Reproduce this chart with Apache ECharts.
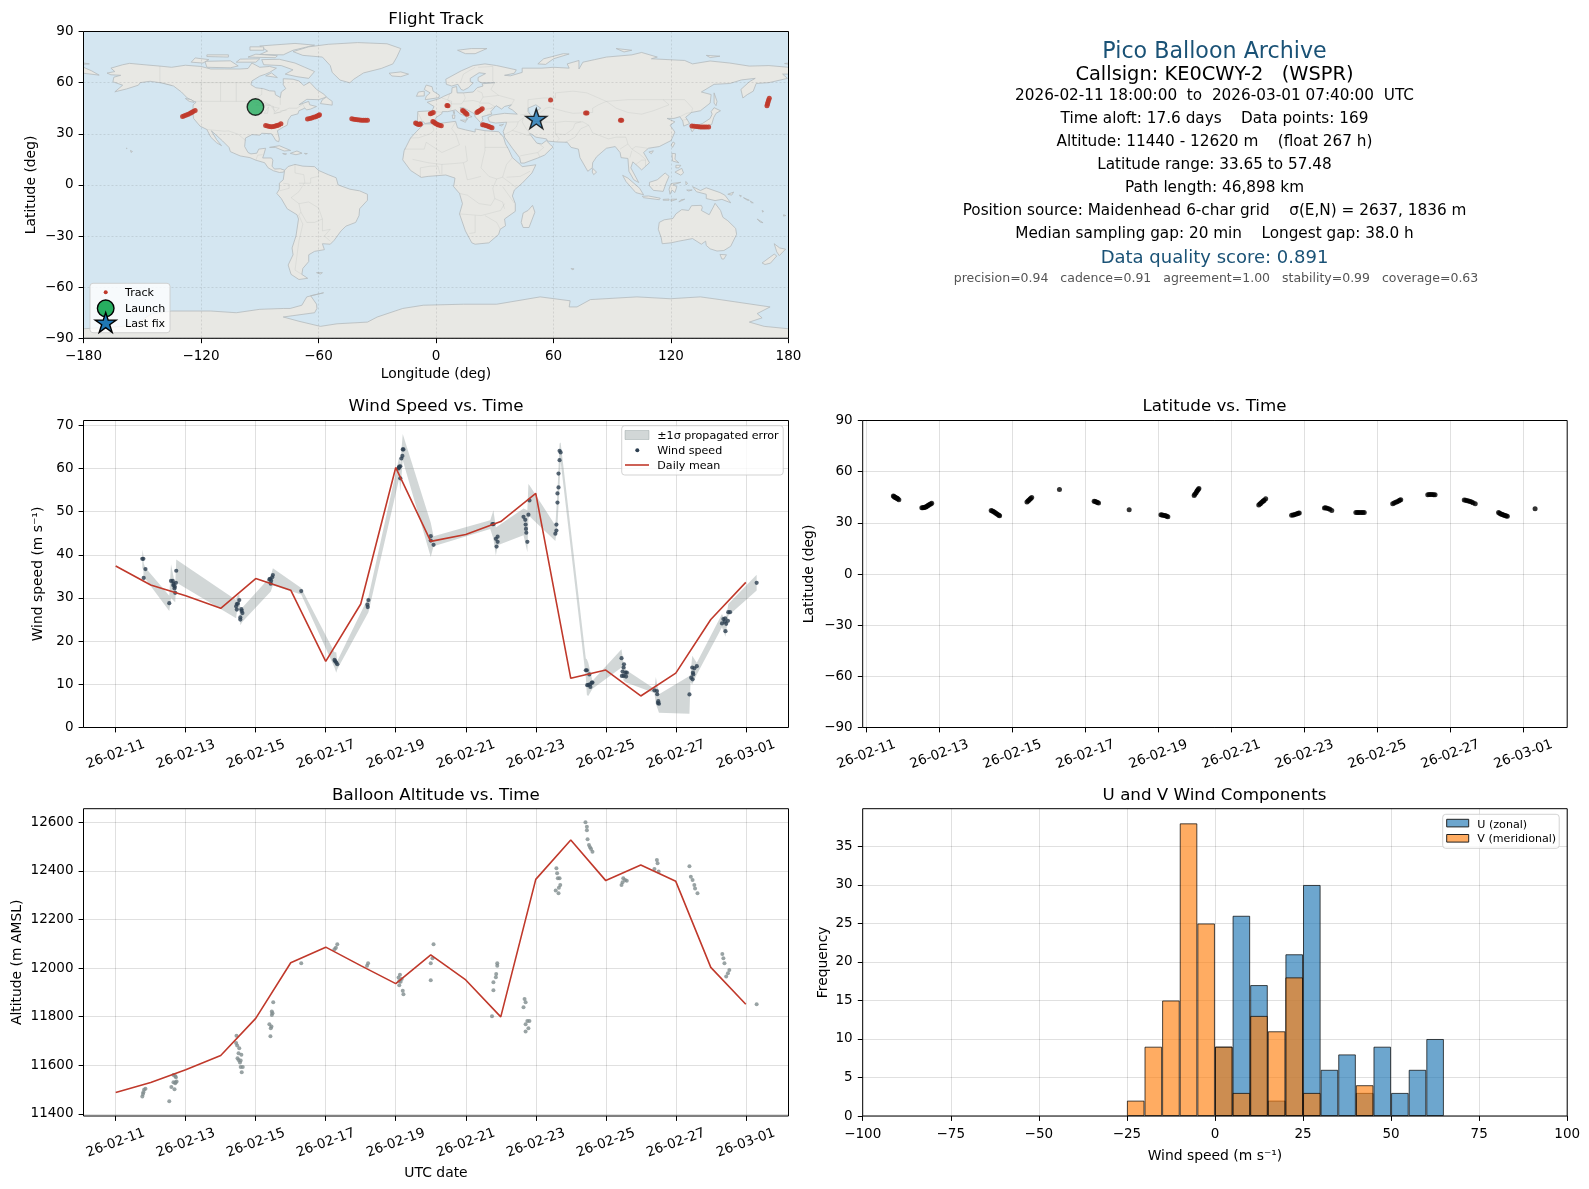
<!DOCTYPE html>
<html><head><meta charset="utf-8">
<style>html,body{margin:0;padding:0;background:#fff}#c{width:1589px;height:1189px}</style>
<script src="https://cdn.jsdelivr.net/npm/echarts@6/dist/echarts.min.js"></script>
</head><body><div id="c"></div>
<script>
// ---------- tick labels ----------
const tickDays=[0,2,4,6,8,10,12,14,16,18];
const tickLabels=['26-02-11','26-02-13','26-02-15','26-02-17','26-02-19','26-02-21','26-02-23','26-02-25','26-02-27','26-03-01'];
const lonTicks=[-180,-120,-60,0,60,120,180];
const latTicks=[-90,-60,-30,0,30,60,90];
const windTicks=[0,10,20,30,40,50,60,70];
const altTicks=[11400,11600,11800,12000,12200,12400,12600];
const histXTicks=[-100,-75,-50,-25,0,25,50,75,100];
const histYTicks=[0,5,10,15,20,25,30,35];

// ---------- text block ----------
const infoTitle='Pico Balloon Archive';
const infoLines=['2026-02-11 18:00:00  to  2026-03-01 07:40:00  UTC','Time aloft: 17.6 days    Data points: 169','Altitude: 11440 - 12620 m    (float 267 h)','Latitude range: 33.65 to 57.48','Path length: 46,898 km','Position source: Maidenhead 6-char grid    σ(E,N) = 2637, 1836 m','Median sampling gap: 20 min    Longest gap: 38.0 h'];

// ---------- daily means (day index 0..18) ----------
const meanDays=[0,1,2,3,4,5,6,7,8,9,10,11,12,13,14,15,16,17,18];
const windMean=[37.4,33.0,30.5,27.6,34.5,31.8,15.3,28.6,60.2,43.1,44.7,47.7,54.2,11.4,13.3,7.3,12.6,25.0,33.6];
const altMean=[11488,11529,11581,11640,11793,12022,12086,12010,11936,12054,11951,11799,12365,12527,12360,12424,12357,12003,11851];

// ---------- wind speed samples [day, m/s] ----------
const windPoints=[[.76,39.07],[.79,39.07],[.85,36.7],[.80,34.65],[1.53,28.8],[1.58,33.95],[1.63,33.95],[1.65,33.26],[1.72,33.5],[1.69,32.6],[1.68,32.2],[1.65,32.9],[1.70,31.2],[1.73,36.3],
[3.53,29.5],[3.46,28.6],[3.49,28.7],[3.44,28.06],[3.46,27.3],[3.59,27.4],[3.60,27],[3.62,26.5],[3.56,25.5],[3.56,25],
[4.49,35.3],[4.47,34.8],[4.41,34.4],[4.39,34.3],[4.44,34],[4.43,33.3],[5.30,31.6],[6.25,15.66],[6.27,15.35],[6.30,15.04],[6.33,14.65],[7.22,29.5],[7.19,28.45],[7.20,27.9],
[8.20,64.4],[8.22,64.4],[8.19,62.9],[8.16,62.3],[8.13,60.5],[8.09,60.2],[8.10,60.4],[8.08,60],[8.13,57.7],[9.0,44.3],[9.0,43.3],[9.08,42.3],
[10.79,47.1],[10.76,47.1],[10.86,43.7],[10.91,44.2],[10.91,43],[10.88,41.9],[11.65,48.8],[11.70,48.1],[11.71,47],[11.72,46],[11.73,45.1],[11.76,43],[11.79,49.3],[11.82,52.6],
[12.59,47],[12.59,45.6],[12.56,44.9],[12.62,52.1],[12.62,54.2],[12.65,55.6],[12.65,58.8],[12.68,61.9],[12.68,64.1],[12.71,63.7],
[13.43,13.26],[13.46,13.26],[13.53,12.3],[13.47,9.8],[13.50,9.85],[13.55,10],[13.60,10.4],[13.62,10.4],[13.56,9.4],
[14.45,16.05],[14.52,14.65],[14.51,13.9],[14.48,12.95],[14.56,12.7],[14.60,12.7],[14.46,11.95],[14.51,11.95],[14.58,11.8],
[15.39,8.6],[15.46,8.45],[15.47,7.7],[15.50,6.1],[15.52,5.5],[15.49,5.66],[16.39,7.67],[16.44,11.55],[16.48,11.16],[16.53,13.7],[16.60,14.2],[16.50,12.3],[16.47,13.9],[16.49,12.7],
[17.42,22.3],[17.32,24.1],[17.36,25.1],[17.41,25.3],[17.50,26.7],[17.55,26.7],[17.49,24.7],[17.44,24],[17.40,24.5],[18.31,33.5]];

// ---------- propagated error band ----------
const bandDay=[.76,.79,.80,.85,1.53,1.58,1.70,1.73,3.44,3.46,3.53,3.56,3.62,4.43,4.49,5.30,6.25,6.30,6.33,7.22,8.10,8.13,8.20,9.0,9.08,10.7,10.79,10.86,10.91,11.65,11.76,11.79,11.82,12.56,12.62,12.68,12.71,13.43,13.46,13.50,13.62,14.45,14.51,14.58,15.39,15.43,15.52,16.39,16.42,16.47,16.60,17.32,17.42,17.50,18.31];
const bandUpper=[41.2,40,38,37,30.5,37.8,33,38.9,29.5,30.3,31,27.5,27.8,35,36.9,32.3,17.4,17.4,15.4,30.2,62.7,61,68,47.4,44.3,48,50.3,46.3,46.6,50.7,50.3,56.4,56.1,46.8,54.6,65.8,66,16,15.8,15,10.8,18.1,14.7,13.3,9,11.7,7.7,11.9,12.3,16.6,15,26.3,24.5,28.6,35.4];
const bandLower=[37,36.5,34,34.4,27,30,29,33.6,25.3,26.7,27.8,23.7,24.5,31.5,32.9,30.8,13.9,12.7,13.5,26.7,57.7,54.6,61.9,39.5,42,46,43.7,39.8,42.2,44.5,40.6,48.4,48.9,43.2,46.8,56,61.6,11.6,7.5,7.3,9,13.9,10.8,10.4,8,5.5,3.4,3.2,10.4,10,12.3,23.2,21,25.9,31.7];

// ---------- latitude samples [day, deg] ----------
const latPoints=[[.74,45.7],[.76,45.4],[.78,45],[.8,44.8],[.82,44.6],[.84,44.4],[.86,44.1],[.89,43.6],[1.52,38.8],[1.55,38.9],[1.58,39],[1.6,39.1],[1.63,39.3],[1.65,39.6],[1.68,40],[1.7,40.3],[1.73,40.7],[1.76,41.1],[1.79,41.5],[3.42,37.3],[3.45,37],[3.48,36.6],[3.51,36.2],[3.54,35.8],[3.57,35.3],[3.6,34.9],[3.63,34.5],[3.65,34.2],[4.4,42.2],[4.43,42.8],[4.45,43.2],[4.48,43.8],[4.5,44.2],[4.53,44.8],[5.29,49.5],[6.24,42.7],[6.27,42.5],[6.3,42.2],[6.33,41.9],[6.36,41.6],[7.2,37.7],[8.07,34.7],[8.1,34.6],[8.13,34.5],[8.17,34.3],[8.2,34.1],[8.23,33.8],[8.26,33.5],[8.98,46],[9.0,46.7],[9.03,47.5],[9.05,48.3],[9.07,49],[9.09,49.6],[9.11,50.2],[10.75,40.5],[10.78,41],[10.8,41.4],[10.83,42],[10.86,42.5],[10.88,42.9],[10.9,43.3],[10.94,44.1],[11.65,34.5],[11.69,34.6],[11.72,34.8],[11.76,35],[11.8,35.3],[11.83,35.6],[11.86,35.8],[12.55,38.7],[12.58,38.8],[12.62,38.6],[12.66,38.3],[12.7,38],[12.75,37.3],[13.41,36],[13.45,36],[13.48,36],[13.52,36],[13.56,36],[13.6,36],[13.64,36],[14.42,41.2],[14.46,41.6],[14.5,42],[14.54,42.4],[14.58,42.8],[14.61,43.2],[14.64,43.5],[15.38,46.5],[15.42,46.6],[15.46,46.6],[15.5,46.6],[15.54,46.5],[15.58,46.4],[16.38,43.4],[16.42,43.2],[16.46,43],[16.5,42.8],[16.54,42.5],[16.58,42.2],[16.62,41.8],[16.68,41.2],[17.32,36],[17.35,35.6],[17.38,35.2],[17.41,35],[17.44,34.8],[17.47,34.5],[17.5,34.3],[17.53,34],[17.56,33.8],[18.32,38.3]];

// ---------- altitude samples [day, m] ----------
const altPoints=[[.76,11471],[.78,11482],[.81,11499],[.85,11503],[.79,11489],[1.53,11452],[1.65,11560],[1.70,11556],[1.72,11551],[1.65,11530],[1.71,11530],[1.74,11533],[1.59,11510],[1.68,11501],[1.70,11526],
[3.45,11721],[3.44,11691],[3.47,11681],[3.53,11670],[3.51,11649],[3.59,11643],[3.48,11629],[3.51,11622],[3.57,11619],[3.55,11611],[3.57,11593],[3.63,11593],[3.60,11571],
[4.50,11859],[4.46,11821],[4.48,11814],[4.46,11807],[4.39,11769],[4.45,11759],[4.43,11752],[4.42,11719],[5.30,12020],[6.33,12098],[6.29,12084],[6.25,12077],[7.21,12020],[7.18,12010],
[8.12,11972],[8.08,11961],[8.17,11955],[8.10,11947],[8.14,11944],[8.10,11929],[8.20,11907],[8.22,11892],[9.08,12098],[9.05,12040],[9.0,12020],[9.0,11950],
[10.9,12020],[10.9,12010],[10.87,11976],[10.86,11962],[10.79,11942],[10.79,11909],[10.75,11802],[11.68,11873],[11.71,11859],[11.65,11839],[11.76,11782],[11.82,11782],[11.71,11769],[11.79,11752],[11.71,11739],
[12.59,12411],[12.61,12390],[12.63,12370],[12.68,12370],[12.70,12342],[12.66,12331],[12.57,12319],[12.65,12308],[13.42,12600],[13.46,12582],[13.46,12567],[13.48,12530],[13.52,12507],[13.55,12497],[13.58,12490],[13.62,12479],
[14.50,12370],[14.55,12363],[14.60,12359],[14.48,12353],[14.45,12342],[15.46,12445],[15.48,12431],[15.39,12408],[15.51,12397],[16.39,12419],[16.43,12376],[16.48,12363],[16.53,12342],[16.55,12328],[16.62,12308],
[17.33,12058],[17.36,12040],[17.39,12020],[17.53,11992],[17.49,11979],[17.44,11965],[18.31,11851]];

// ---------- histogram (5 m/s bins, left edge) ----------
const histEdges=[-25,-20,-15,-10,-5,0,5,10,15,20,25,30,35,40,45,50,55,60];
const histU=[0,0,0,0,0,9,26,17,2,21,30,6,8,3,9,3,6,10];
const histV=[2,9,15,38,25,9,3,13,11,18,3,0,0,4,0,0,0,0];

// ---------- track [lon, lat] ----------
const trackPoints=[[-129.4,40.2],[-128.5,40.6],[-127.5,41],[-126.5,41.5],[-125.5,42],[-124.8,42.5],[-124,43],[-123,43.7],[-87,34.9],[-86,34.5],[-85,34.2],[-84,34.1],[-83,34.2],[-82,34.5],[-81.2,34.9],[-80.3,35.2],[-79.2,35.9],[-65.6,38.6],[-64.5,39],[-63.5,39.3],[-62.5,39.7],[-61.5,40],[-60.7,40.4],[-60,40.7],[-59.5,41.2],[-43,38.8],[-42,38.5],[-41,38.4],[-40,38.2],[-39,38.1],[-38,38],[-37,38],[-36,38],[-35,38],[-10.4,36.3],[-9.8,35.9],[-9,35.5],[-8.3,35.6],[-8,35.8],[-2.9,41.8],[-2.2,42.1],[-1.4,42.5],[-1.6,37.2],[-1,36.7],[-0.4,36.2],[0.3,35.8],[1,35.3],[1.8,35],[2.7,34.7],[6.1,46.5],[5.6,46.6],[13.6,43.7],[14.2,43.2],[14.8,42.5],[15.3,42],[15.8,41.4],[20.9,42.5],[21.5,43],[22,43.4],[22.8,44],[23.6,44.7],[23.8,35.3],[24.6,35.1],[25.5,34.9],[26.3,34.5],[27,34.2],[27.8,33.8],[28.6,33.5],[58.5,49.8],[77.1,42.2],[76.4,42.2],[94.8,38],[94.2,38],[130.7,34.5],[131.8,34.4],[133,34.2],[134,34.1],[135,34],[136,34],[137,34],[138,33.9],[139.2,33.9],[169,46.5],[169.3,47.5],[169.5,48.5],[169.8,49.6],[170.2,50.8]];
const launchPoint=[-92.2,45.7];
const lastFixPoint=[51.2,38.8];

// ---------- land outlines [lon, lat] ----------
const landNorthAmerica=[[-168,65.6],[-164,66.5],[-166,68.5],[-160,70.5],[-156.5,71.3],[-148,70.4],[-141,69.7],[-135,69],[-128,70.2],[-120,69.5],[-115,68],[-108,68],[-100,68],[-96,68.3],[-94,71.5],[-90,69],[-85,69.5],[-81.5,68.5],[-85,66],[-87,65],[-90,63.8],[-94,61],[-94.5,58.8],[-92,57],[-88,56.4],[-85,55.2],[-82.3,55],[-82,52.9],[-79.5,51.3],[-79,54.5],[-76.7,56.5],[-78,58.8],[-78,62.3],[-73,62],[-70,61],[-67.5,58.3],[-64.5,60.3],[-61,56],[-57,53],[-56,51.5],[-60,50],[-66,50.2],[-70,47],[-65,49],[-64.5,47],[-61,46],[-64,44.5],[-66,44],[-67,45],[-70,43.5],[-70.5,41.7],[-74,40.6],[-75.5,38],[-76,35],[-78,33.9],[-81,31.8],[-80,27],[-80.3,25.3],[-81.8,26],[-82.8,28],[-84,30],[-89,30.3],[-90,29.2],[-94,29.5],[-97.3,27.5],[-97.7,22.5],[-96,19],[-94.5,18.2],[-91.5,18.6],[-90.5,21],[-87,21.5],[-88,17.5],[-88.5,15.8],[-84,15.8],[-83.3,14.5],[-83.7,11],[-82.5,9.3],[-79.5,9.5],[-77.3,8.6],[-77.8,7.5],[-80,7.3],[-83,8.3],[-85.7,10],[-87.5,13],[-92,14.5],[-95,16],[-100,17],[-105,19.5],[-105.7,22],[-109,25.8],[-112.5,29.5],[-114.7,31.7],[-112,26.5],[-109.5,23],[-112,24.7],[-115,28],[-117,32.5],[-120.5,34.5],[-123.8,39],[-124.2,43],[-124,47],[-122.5,48.5],[-127,51],[-130,54.5],[-134,58],[-140,59.8],[-146,60.8],[-151,60],[-152,58.5],[-158,56.3],[-164,54.6],[-160,58.5],[-165,60.5],[-164.5,63.2],[-161,64.3],[-166,64.6]];
const landSouthAmerica=[[-77.3,8.6],[-75.5,10.8],[-72,12],[-68,11],[-62,10.7],[-60,8.5],[-55,6],[-51,4.2],[-50,0],[-44,-2.5],[-39,-3.5],[-35,-5.5],[-35,-9],[-39,-14],[-39.3,-18],[-41,-22],[-46,-24.2],[-48.5,-27],[-52,-32.5],[-54,-34.8],[-58,-34.5],[-57,-38],[-62,-39],[-65,-41],[-65,-45],[-68,-49],[-68.5,-52.5],[-65.5,-54.8],[-70,-55.5],[-74,-52.5],[-75.5,-47],[-73,-41],[-73.5,-37],[-71.5,-30],[-70.2,-20],[-71,-17.5],[-76,-14],[-79,-8],[-81.3,-5],[-80,-2.5],[-80,1],[-78,3],[-77.5,7]];
const landAfrica=[[-6,35.8],[0,35.8],[10,37.3],[11,33.5],[15,32.3],[20,31],[20,32.8],[25,31.8],[32,31.2],[34.5,28],[35.5,24],[37,21],[39,16],[43,12],[44,10.7],[51,11.8],[49,7],[44,1],[40,-3],[39,-6.5],[40.5,-11],[40.5,-15.5],[35,-20],[35.5,-24],[32.8,-26],[32,-29],[27,-34],[20,-34.8],[18.3,-34],[15,-27],[12,-17],[13.5,-11],[12,-5],[9,-1],[9.7,4],[5,5.8],[-4,5],[-7.5,4.4],[-13,8.5],[-17,14.7],[-16.3,20],[-13,27.5],[-9.8,31.5]];
const landEurasia=[[-9.5,37],[-9.3,43],[-2,43.5],[-1,46],[-4.5,48.5],[1.5,50.5],[4,52],[8,54],[8.2,57],[10.5,57.7],[10.8,54],[14,54],[19,54.5],[21,57],[24,58],[23.5,59.3],[30,60],[23,60],[21.5,61],[21.5,63],[25.3,65.3],[22,65.8],[17.5,62.5],[17.5,60.5],[19,59.8],[16.5,57],[14,55.5],[12.8,56],[11.2,59],[8,58],[5.3,59],[5,62],[13,67],[19,70],[25,71],[31,70],[41,67.5],[40,65.5],[35,64.3],[38,64],[44,66],[44,68.5],[54,68.5],[60,69],[68,68.5],[67,71],[73,73],[73,68],[75,72],[81,73.5],[87,75],[100,76.3],[105,77.7],[113,75],[110,74],[127,73],[131,71],[140,72.7],[150,71.5],[160,69.7],[170,70],[180,69],[180,65],[177,65],[179.5,62.5],[170,60],[163.5,59.5],[162,55],[159,53],[156.7,51],[155.7,56],[160,60.5],[163,62.5],[156,61.6],[150,59.5],[142,59],[135.5,54.5],[140.5,53],[140,48],[135,43.5],[130.5,42.5],[127.5,39.7],[129.5,36],[126.5,34.5],[126,37.5],[124.5,40],[121.5,39],[118,39],[122,37],[119.5,35],[122,31],[120,26],[114,22.5],[108.5,21.5],[106,19],[109,13],[105,8.8],[103,11],[100.5,13.5],[99.5,10],[103.5,1.4],[101,3],[98.5,8],[98,15.5],[94.5,16],[94,19],[91.5,22.5],[87,21.5],[82,16.5],[80,13],[79.8,10],[77.5,8],[73.5,16],[72.7,21],[69,22],[67,25],[61.5,25.2],[57,25.7],[56.4,27],[51,28],[48.5,30],[47.8,30],[50,26.7],[51.5,24.5],[54,24],[56.3,26],[58.5,23.5],[59.8,22.3],[55.5,17.5],[52,15.8],[45,12.8],[43.3,12.8],[42.7,16],[39,21.5],[35,28],[34.8,29.5],[34.3,31.3],[35.8,35.5],[36,36.8],[30.5,36.3],[27.3,37],[26.5,39.5],[29,41],[35,42],[41.5,41.5],[39,44],[37,45.2],[38.5,47],[35,46],[33.5,44.5],[30.7,46.5],[28,43],[28.5,41.5],[26,40.8],[23.5,40],[24,38],[22.8,36.5],[20,40],[19.5,41.8],[14,45.3],[12.3,45.3],[14,42.5],[18.4,40],[16.5,39.5],[15.7,38],[15.7,40],[12.3,41.7],[10,44],[6,43],[3.2,43],[3,41.8],[0,39.5],[-0.5,38],[-2,36.8],[-5.5,36],[-6.5,37]];
const landAustralia=[[114,-22],[116.5,-20.5],[121,-19.7],[122.5,-17],[125.5,-14.5],[129,-15],[130.5,-12.2],[135.5,-12],[136,-13.3],[135.5,-15],[139.5,-17.5],[141.6,-13],[142.5,-10.8],[145.3,-15],[146.5,-19],[149,-21],[153,-25.5],[153.5,-29],[150.5,-36],[147,-38.5],[143.5,-38.8],[140,-37.5],[138,-35.5],[137.7,-33],[135.5,-34.8],[131,-31.5],[124,-33],[120,-34],[115.5,-34.5],[115,-31],[113.5,-26]];
const landAntarctica=[[-180,-84.4],[-160,-83],[-150,-79],[-145,-75.5],[-135,-74],[-115,-74],[-102,-75],[-90,-73],[-78,-72.5],[-74.5,-72.5],[-68.5,-70.6],[-66,-65.7],[-57.4,-63.3],[-64,-65],[-61,-70],[-60.8,-72.5],[-62,-75],[-78,-77.5],[-70,-80],[-59,-83],[-50.6,-81.5],[-35,-80.5],[-30,-77.5],[-17,-72.5],[-6.5,-70.6],[14,-70],[31,-70],[53.2,-65.7],[68.5,-68],[68,-71.6],[72,-71.6],[78.8,-67.3],[102.6,-65.7],[119.6,-66.8],[135,-65.7],[145,-67.3],[170.6,-71.6],[164,-75.5],[166.5,-78],[160,-80.5],[167.6,-83],[180,-84.4],[180,-90],[-180,-90]];
const landIslands=[
[[-80,73.7],[-72,71.5],[-67,69],[-62,66.5],[-65,62.5],[-71,63.5],[-77,65],[-73,67.5],[-79,70],[-88,70.5],[-89,73.5]],
[[-117,69],[-105,68.7],[-101,69.8],[-105,72.8],[-118,72.5]],[[-125,72],[-119,71.5],[-116,73.5],[-123,74.5]],
[[-90,76.5],[-78,76.3],[-73,79],[-62,82],[-72,83],[-90,81.5],[-86,78.5]],[[-96,75],[-82,74.6],[-81,75.8],[-92,76.7]],
[[-117,75.3],[-106,75],[-106,76.3],[-117,76.3]],[[-102,72],[-92,72],[-90,74],[-100,73.8]],[[-95,79],[-88,79],[-88,81],[-95,81]],
[[-87,64],[-81,63],[-84,65.7]],[[-59,47.7],[-53,46.8],[-53,49],[-56,51.5],[-58,50]],[[-128,50.7],[-125,50],[-123.5,48.4],[-126,49]],
[[-85,22],[-80,23],[-74.2,20.2],[-77.5,19.9],[-82,22]],[[-74.4,18.5],[-71,19.9],[-68.4,18.6],[-71.5,17.7]],[[-78.3,18.4],[-76.3,18.2],[-77,17.8]],[[-67.2,18.5],[-65.7,18.4],[-66.5,18]],
[[-156,20.2],[-155,19.6],[-155.7,19]],[[-158.2,21.6],[-157.7,21.4],[-158,21.3]],
[[-73,78.2],[-65,81],[-55,82.5],[-40,83.5],[-25,82.8],[-18,80],[-20,75],[-22,71],[-28,68.3],[-37,65.7],[-42,62],[-44,59.9],[-49,61.5],[-53,66],[-54,70],[-58,75],[-68,76]],
[[-24,65.5],[-18,66.3],[-14,65],[-18,63.5],[-22.5,63.9]],[[11,79],[18,80],[26,80],[20,77],[15,77]],
[[-61,-51.5],[-58,-51.5],[-59,-52.3]],[[49.3,-12],[50.5,-16],[47.5,-25],[44.5,-25],[43.5,-22],[44.5,-16.5],[47,-15]],
[[-5.5,50],[1.5,51.2],[1.7,52.7],[-1.5,55],[-2,57.6],[-5,58.6],[-6,56],[-3,54],[-5,52]],[[-10,52],[-6,52.2],[-6,55],[-9,54.5]],
[[12.5,38],[15.5,38],[15,36.7]],[[8.3,41],[9.7,41],[9.5,39],[8.5,39]],[[8.7,43],[9.5,43],[9.3,41.5]],[[23.5,35.5],[26.3,35.2],[24.5,34.9]],[[32.3,35],[34.5,35.6],[33.5,34.6]],
[[52,71],[56,70.7],[60,74],[68,76.8],[65,77],[55,74]],[[142,54],[143.5,49],[143,46.5],[142,48]],
[[130,33],[132,34.5],[136,36],[140,39],[141,41.5],[140.5,43],[142,45.3],[145.3,43.5],[143,42],[141.8,39.5],[140.8,35.5],[136,34],[132,33],[130.8,31.2]],
[[121,25.2],[122,24.5],[120.8,22],[120.1,23.3]],[[108.7,19.3],[111,20],[110,18.3]],[[80,9.7],[82,7.5],[80.5,6],[79.8,7.5]],
[[120.5,18.5],[122.3,18.3],[122,15],[124,13],[120.8,14]],[[122,7.5],[125.5,9.7],[126.4,7],[125,5.7]],[[122.5,11.5],[125,11.5],[124,10],[122.5,10]],
[[95.3,5.6],[98,4],[104,-2],[106,-5.8],[102,-4.5],[97,2]],[[105.3,-6.7],[108.5,-6.5],[114.5,-7.8],[114,-8.7],[106,-7.5]],
[[109,1.5],[113,3],[117,7],[119,5],[117.5,1],[116,-3.8],[111,-3.2],[109,-0.5]],[[119.5,-5.5],[119,-2.5],[120,0.8],[125,1.5],[121,0],[123,-1],[122,-4.5],[120.5,-3]],
[[131,-1],[135,-3.3],[138,-1.7],[145,-4.5],[147.5,-6],[150.5,-10.5],[146,-8.5],[142.5,-9.2],[138,-8],[138,-5.5],[133,-4]],
[[116,-8.5],[119,-8.3],[119,-9],[116,-9]],[[120,-8.4],[123,-8.4],[120,-9.6]],[[124,-10],[127,-8.4],[125,-8.8]],[[128,-3],[130.8,-3],[129,-3.6]],[[127.5,2],[128.5,1],[127.7,0]],
[[149,-5.5],[152,-4.2],[151,-6]],[[155,-6],[156,-6.5],[155.5,-7]],[[157,-7.5],[160,-9],[159,-9]],[[160.5,-9.5],[162,-10.5],[161,-10.5]],[[166.5,-15],[167.3,-15.5],[166.8,-16]],[[164,-20],[167,-22.2],[165.5,-21.8]],[[177.5,-17.5],[178.6,-18],[177.5,-18.3]],
[[145,-40.8],[148.3,-41],[147,-43.5],[146,-43.5]],[[172.7,-34.5],[175.5,-37],[178.5,-37.7],[175.3,-41.5],[174,-39.3]],[[172.7,-40.6],[174,-41.7],[170.8,-45.9],[168,-46.7],[166.5,-45.8]],
[[69,-49],[70.5,-49.3],[69.5,-49.8]],[[-180,71.5],[-177,71],[-180,70.8]],[[-180,65.5],[-172,64.4],[-176,67],[-180,69]],[[178,71.2],[180,71.5],[180,70.8]],[[138,76],[145,75.5],[140,74.7]],[[92,80],[100,79],[96,78]]
];
const waterCaspian=[[47,45],[51,47],[53.5,45],[51,43],[53,40.5],[54,37],[50,37.3],[49,40],[47,43]];
const borderLines=[
[[-123,49],[-95,49],[-89,48],[-83,46],[-82.5,42],[-79,43],[-75,45],[-71,45],[-68,47.3],[-67,45]],[[-117,32.5],[-108,31.5],[-106,31.7],[-101,29.7],[-97.2,26]],[[-141,69.7],[-141,60],[-135,58.5]],[[-92,14.5],[-91,17.5],[-88.5,17.7]],
[[-72,12],[-72,7],[-67.5,6],[-67,1.5],[-70,-4],[-74,-7.5],[-70,-11],[-69,-16],[-70.2,-18]],[[-60,8.5],[-60,5],[-64,4],[-64,1],[-70,1]],[[-80,-3.5],[-75,-2],[-75,0.5],[-78,1]],[[-70,-11],[-65,-10],[-60,-13.5],[-58,-20],[-58,-27],[-54,-26],[-57,-30],[-54,-33]],[[-70,-18],[-68,-23],[-70,-33],[-72,-50],[-68.5,-52.5]],[[-69,-16],[-66,-22],[-62,-22],[-58,-20]],
[[-13,27.5],[-8.7,27.7],[-3,30],[-1,32],[-2,35]],[[-16.3,21],[-6,21],[-5,25],[3,19],[12,23.5],[10,30],[8,33],[10,37]],[[25,31.8],[25,20],[24,15.5],[23,10],[27,5],[31,3.5],[34,4.5],[36,12],[39,16]],[[25,22],[36.8,22]],[[15,23],[16,14],[14,13],[9,12.5],[3,12],[3,6.3]],[[-12,15],[-4,13],[3,12]],[[-8,4.5],[-8,10],[-3,11],[1,11],[2,6.5]],[[14,13],[15,8],[16,3],[18,3.5],[23,5]],[[12,-5],[16,-6],[22,-11],[28,-12],[30,-8],[29,-2],[31,3.5]],[[34,4.5],[41,-1.5]],[[34,-1],[40,-10.7]],[[12,-17],[23,-18],[33,-15],[35,-11]],[[20,-18],[20,-28],[17,-28.5]],[[25,-18],[31,-22],[32.8,-26]],[[30,-8],[34,-10],[35,-14]],[[48,8],[43,5],[36,4.5]],
[[-2,43.5],[3,42.5]],[[-9,42],[-7,37.2]],[[3,51],[8,49],[7.5,44]],[[7,53.5],[6,50],[8,47.5],[13,47.5],[14,49],[15,51],[14,54]],[[14,49],[19,49.5],[22.5,48.5],[24,51.5],[23.5,54],[21,55.3]],[[22,48],[27,48],[30,46],[28,45]],[[22.5,44],[29,45]],[[20,40],[21,42],[23,44],[22,47]],[[30,60],[28,56],[32,52.5],[40,50],[38.5,47]],[[24,51.5],[32,52.5]],[[21.5,69],[29,69.5],[29,61],[30,60]],[[12.5,60],[14,65],[20,69]],[[26,41],[28,42]],[[36,36.8],[42,37],[44.7,39.5],[44,37],[46,33],[48,30]],[[39,32],[35,29.5]],[[43,41],[48,41.8]],[[42,37],[41,34],[39,32],[47,29],[48,29]],[[45,17.5],[52,19],[55,22],[52,24.5]],[[43,17],[45,17.5]],[[52,19],[53,16.5]],
[[48,42],[47,45],[47,50],[55,51],[61,51],[61,54],[70,55],[77,54],[87,49]],[[53,42],[56,45],[58,45.5],[66,43],[70,42],[80,42.5],[80,45],[83,47],[87,49]],[[54,37],[61,36.6],[66,37.3],[71,37],[75,37]],[[61,36.6],[61,30],[63,27],[61.5,25.2]],[[61,30],[66,29.5],[70,33],[71,36],[74,37]],[[66,25],[71,28],[74,33],[78,35],[80,30.5],[88,27],[92,28],[97,28],[98,24],[94,21]],[[75,37],[78,35]],[[87,49],[92,45],[98,42.5],[105,41.5],[111,43.5],[119,47],[116,50],[127,50],[131,45],[130.5,42.5]],[[87,49],[98,50],[107,50],[116,50]],[[124.5,40],[128,42],[130.5,42.5]],[[126,38],[128.5,38.5]],[[98,24],[100,21],[102,22.5],[108,21.5]],[[100,21],[104,18],[107,15],[107,11]],[[99,16],[100,20]],[[102,12],[105,14.5],[107,14.5]],
[[-92,46.8],[-88,48.8],[-84.5,46.8],[-87,46.5],[-92,46.8]],[[-87.8,42],[-85.5,45.8],[-86,42],[-87.8,42]],[[-84,45.9],[-80,45],[-82,43],[-84,45.9]],[[-83,41.7],[-79,42.8]],[[-79.5,43.5],[-76.3,43.8]],[[-125,60],[-110,60],[-102,60],[-94.7,60]],[[-120,49],[-120,60]],[[-110,49],[-110,60]],[[-102,49],[-102,60]],[[-95,49],[-89,53],[-89,57]],[[-79.5,51.5],[-79.5,47]]
];

// ---------- helpers ----------
const FONT='"DejaVu Sans"';
const TICKFS=13.5;
const landPolygons=[landNorthAmerica,landSouthAmerica,landAfrica,landEurasia,landAustralia,landAntarctica].concat(landIslands);
const GRIDS=[
 {left:83.5,top:31.5,width:705,height:306.8},
 {left:83.5,top:420.5,width:705,height:307},
 {left:862.7,top:420.5,width:704.5,height:307},
 {left:83.5,top:808.7,width:705,height:307.3},
 {left:862.7,top:808.7,width:704.5,height:307.3}];
function gridOpts(i,frame){return Object.assign({show:true,borderColor:frame?'transparent':'#000',borderWidth:1,backgroundColor:'transparent',containLabel:false},GRIDS[i]);}
const splitSolid={show:true,lineStyle:{color:'rgba(0,0,0,0.12)',width:1,type:'solid'}};
const splitDash={show:true,lineStyle:{color:'rgba(90,90,90,0.2)',width:0.8,type:[2,2]}};
function axis(o){
 const left=o.pos==='left';
 const base={type:'value',gridIndex:o.g,min:o.min,max:o.max,position:o.pos,
  name:o.name||'',nameLocation:'middle',nameGap:o.gap||30,nameRotate:left?90:0,
  nameTextStyle:{fontFamily:FONT,fontSize:13.9,color:'#000'},
  axisLine:{show:false,onZero:false},
  axisTick:{show:true,length:4.9,inside:false,lineStyle:{color:'#000',width:1},customValues:o.ticks},
  axisLabel:{show:true,fontFamily:FONT,fontSize:TICKFS,color:'#000',margin:o.margin||(left?10:11),showMinLabel:true,showMaxLabel:true,hideOverlap:false,customValues:o.ticks,padding:left?[4,0,0,0]:0,formatter:o.fmt||(v=>String(v).replace('-','\u2212'))},
  splitLine:o.split||splitSolid,z:o.z||0};
 if(o.rot){base.axisLabel.rotate=o.rot;base.axisLabel.align='center';base.axisLabel.verticalAlign='middle';}
 return base;
}
const dayFmt=v=>tickLabels[tickDays.indexOf(v)];
const timeAxis=(g,min,max,name,gap)=>axis({g,min,max,pos:'bottom',ticks:tickDays,fmt:dayFmt,rot:20,margin:27,name,gap});
function polyItem(polys,closed,style){
 return function(params,api){
  const idx=api.value(0);const pts=polys[idx].map(p=>api.coord(p));
  return {type:closed?'polygon':'polyline',shape:{points:pts},style:style,silent:true};
 };
}
function starPath(){let s='';for(let i=0;i<10;i++){const r=i%2?0.382:1,a=-Math.PI/2+i*Math.PI/5;s+=(i?'L':'M')+(r*Math.cos(a)).toFixed(4)+' '+(r*Math.sin(a)).toFixed(4);}return 'path://'+s+'Z';}
function starPts(cx,cy,R){const o=[];for(let i=0;i<10;i++){const r=i%2?R*0.382:R,a=-Math.PI/2+i*Math.PI/5;o.push([cx+r*Math.cos(a),cy+r*Math.sin(a)]);}return o;}
const RED='#c0392b',NAVY='#2c3e50',GREY='#7f8c8d',GREEN='#27ae60',BLUE='#1f77b4',ORANGE='#ff7f0e',TITLE='#1a5276';

const TEXT_DY=1.6;
function text(x,y,t,size,color,align){return {type:'text',x:x,y:y+TEXT_DY,z:100,silent:true,style:{text:t,fontFamily:FONT,fontSize:size,fill:color||'#000',textAlign:align||'center',textVerticalAlign:'middle'}};}
function legendBox(x,y,w,h){return {type:'rect',z:90,silent:true,shape:{x:x,y:y,width:w,height:h,r:3},style:{fill:'rgba(255,255,255,0.8)',stroke:'rgba(200,200,200,0.8)',lineWidth:1}};}
function patch(x,y,w,h,fill,stroke){return {type:'rect',z:95,silent:true,shape:{x:x,y:y,width:w,height:h},style:{fill:fill,stroke:stroke,lineWidth:1}};}
function dot(x,y,r,fill,stroke){return {type:'circle',z:95,silent:true,shape:{cx:x,cy:y,r:r},style:{fill:fill,stroke:stroke||null,lineWidth:stroke?1.4:0}};}

const graphics=[
 text(436,18,'Flight Track',16.7),text(436,405.5,'Wind Speed vs. Time',16.7),text(1214.5,405.5,'Latitude vs. Time',16.7),
 text(436,794,'Balloon Altitude vs. Time',16.7),text(1214.5,794,'U and V Wind Components',16.7),
 text(1214.5,50.9,infoTitle,22.2,TITLE),text(1214.5,73,'Callsign: KE0CWY-2   (WSPR)',19.4),
].concat(infoLines.map((t,i)=>text(1214.5,[94.5,117.5,140.5,163.5,186.5,209.5,232.5][i],t,15.28)),[
 text(1214.5,257,'Data quality score: 0.891',18,TITLE),
 text(1216,277.6,'precision=0.94   cadence=0.91   agreement=1.00   stability=0.99   coverage=0.63',12.5,'#555'),
 legendBox(90,283.3,80,49.4),dot(105.7,292.3,2,RED),dot(105.7,308.3,8.3,GREEN,'#000'),
 {type:'polygon',z:96,silent:true,shape:{points:starPts(105.7,323.5,11)},style:{fill:BLUE,stroke:'#000',lineWidth:1.4}},
 text(125,291.5,'Track',11.1,'#000','left'),text(125,307.5,'Launch',11.1,'#000','left'),text(125,322.5,'Last fix',11.1,'#000','left'),
 legendBox(621.7,425.7,161.5,49.3),patch(625,430.5,24,9,'rgba(127,140,141,0.35)','rgba(127,140,141,0.35)'),
 dot(637.3,450.3,2,NAVY),{type:'line',z:95,silent:true,shape:{x1:625,y1:465,x2:649,y2:465},style:{stroke:RED,lineWidth:1.6}},
 text(657.3,434.5,'±1σ propagated error',11.1,'#000','left'),text(657.3,449.5,'Wind speed',11.1,'#000','left'),text(657.3,465,'Daily mean',11.1,'#000','left'),
 legendBox(1442.7,814.3,116.5,34),patch(1446.7,819.3,22,7.6,'rgba(31,119,180,0.65)','#222'),patch(1446.7,834.5,22,7.6,'rgba(255,127,14,0.65)','#222'),
 text(1477.3,823.3,'U (zonal)',11.1,'#000','left'),text(1477.3,838,'V (meridional)',11.1,'#000','left')
]);

const option={
 animation:false,backgroundColor:'#fff',
 grid:[gridOpts(0,true),gridOpts(1),gridOpts(2),gridOpts(3),gridOpts(4)],
 xAxis:[
  axis({g:0,min:-180,max:180,pos:'bottom',ticks:lonTicks,name:'Longitude (deg)',gap:29,split:splitDash,z:5}),
  timeAxis(1,-0.92,19.22),
  timeAxis(2,-0.1,19.2),
  timeAxis(3,-0.92,19.22,'UTC date',50),
  axis({g:4,min:-100,max:100,pos:'bottom',ticks:histXTicks,name:'Wind speed (m s\u207B\u00B9)',gap:33})
 ],
 yAxis:[
  axis({g:0,min:-90,max:90,pos:'left',ticks:latTicks,name:'Latitude (deg)',gap:45,split:splitDash,z:5}),
  axis({g:1,min:0,max:71.1,pos:'left',ticks:windTicks,name:'Wind speed (m s\u207B\u00B9)',gap:38}),
  axis({g:2,min:-90,max:90,pos:'left',ticks:latTicks,name:'Latitude (deg)',gap:46}),
  axis({g:3,min:11391,max:12656,pos:'left',ticks:altTicks,name:'Altitude (m AMSL)',gap:59}),
  axis({g:4,min:0,max:39.9,pos:'left',ticks:histYTicks,name:'Frequency',gap:32})
 ],
 graphic:{elements:graphics},
 series:[
  {type:'custom',xAxisIndex:0,yAxisIndex:0,z:1,silent:true,data:[[0]],encode:{x:0},clip:true,
   renderItem:polyItem([[[-180,-90],[180,-90],[180,90],[-180,90]]],true,{fill:'#d4e6f1'})},
  {type:'custom',xAxisIndex:0,yAxisIndex:0,z:2,silent:true,clip:true,data:landPolygons.map((p,i)=>[i]),encode:{x:0},
   renderItem:polyItem(landPolygons,true,{fill:'#e8e8e4',stroke:'#b4babd',lineWidth:0.8})},
  {type:'custom',xAxisIndex:0,yAxisIndex:0,z:3,silent:true,clip:true,data:[[0]],encode:{x:0},
   renderItem:polyItem([waterCaspian],true,{fill:'#d4e6f1',stroke:'#b4babd',lineWidth:0.8})},
  {type:'custom',xAxisIndex:0,yAxisIndex:0,z:3,silent:true,clip:true,data:borderLines.map((p,i)=>[i]),encode:{x:0},
   renderItem:polyItem(borderLines,false,{stroke:'rgba(120,125,125,0.14)',lineWidth:0.8,fill:'none'})},
  {type:'scatter',xAxisIndex:0,yAxisIndex:0,z:20,symbolSize:5,itemStyle:{color:RED,opacity:0.9},data:trackPoints,silent:true},
  {type:'scatter',xAxisIndex:0,yAxisIndex:0,z:21,symbolSize:16.5,itemStyle:{color:GREEN,borderColor:'#000',borderWidth:1.4},data:[launchPoint],silent:true},
  {type:'scatter',xAxisIndex:0,yAxisIndex:0,z:22,symbol:starPath(),symbolSize:[21,20],itemStyle:{color:BLUE,borderColor:'#000',borderWidth:1.4},data:[lastFixPoint],silent:true},
  {type:'custom',xAxisIndex:0,yAxisIndex:0,z:30,silent:true,clip:false,data:[[0]],encode:{x:0},
   renderItem:polyItem([[[-180,-90],[180,-90],[180,90],[-180,90]]],true,{fill:'none',stroke:'#000',lineWidth:1})},
  {type:'custom',xAxisIndex:1,yAxisIndex:1,z:3,silent:true,clip:true,data:[[0]],encode:{x:0},
   renderItem:function(params,api){
     const up=bandDay.map((d,i)=>api.coord([d,bandUpper[i]]));
     const lo=bandDay.map((d,i)=>api.coord([d,bandLower[i]])).reverse();
     return {type:'polygon',shape:{points:up.concat(lo)},style:{fill:'rgba(127,140,141,0.35)'}};
   }},
  {type:'scatter',xAxisIndex:1,yAxisIndex:1,z:5,symbolSize:4.2,itemStyle:{color:NAVY},data:windPoints,silent:true},
  {type:'line',xAxisIndex:1,yAxisIndex:1,z:6,showSymbol:false,symbol:'none',lineStyle:{color:RED,width:1.6},data:meanDays.map((d,i)=>[d,windMean[i]]),silent:true},
  {type:'scatter',xAxisIndex:2,yAxisIndex:2,z:5,symbolSize:5,itemStyle:{color:'#000'},data:latPoints,silent:true},
  {type:'scatter',xAxisIndex:3,yAxisIndex:3,z:5,symbolSize:4,itemStyle:{color:GREY},data:altPoints,silent:true},
  {type:'line',xAxisIndex:3,yAxisIndex:3,z:6,showSymbol:false,symbol:'none',lineStyle:{color:RED,width:1.6},data:meanDays.map((d,i)=>[d,altMean[i]]),silent:true},
  {type:'bar',xAxisIndex:4,yAxisIndex:4,z:4,barWidth:17.6,barGap:'-100%',silent:true,
   itemStyle:{color:'rgba(31,119,180,0.65)',borderColor:'rgba(0,0,0,0.7)',borderWidth:1},
   data:histEdges.map((e,i)=>[e+2.5,histU[i]]).filter(d=>d[1]>0)},
  {type:'bar',xAxisIndex:4,yAxisIndex:4,z:5,barWidth:17.6,barGap:'-100%',silent:true,
   itemStyle:{color:'rgba(255,127,14,0.65)',borderColor:'rgba(0,0,0,0.7)',borderWidth:1},
   data:histEdges.map((e,i)=>[e+2.5,histV[i]]).filter(d=>d[1]>0)}
 ]
};
const chart=echarts.init(document.getElementById('c'),null,{renderer:'canvas'});
chart.setOption(option);
</script></body></html>
